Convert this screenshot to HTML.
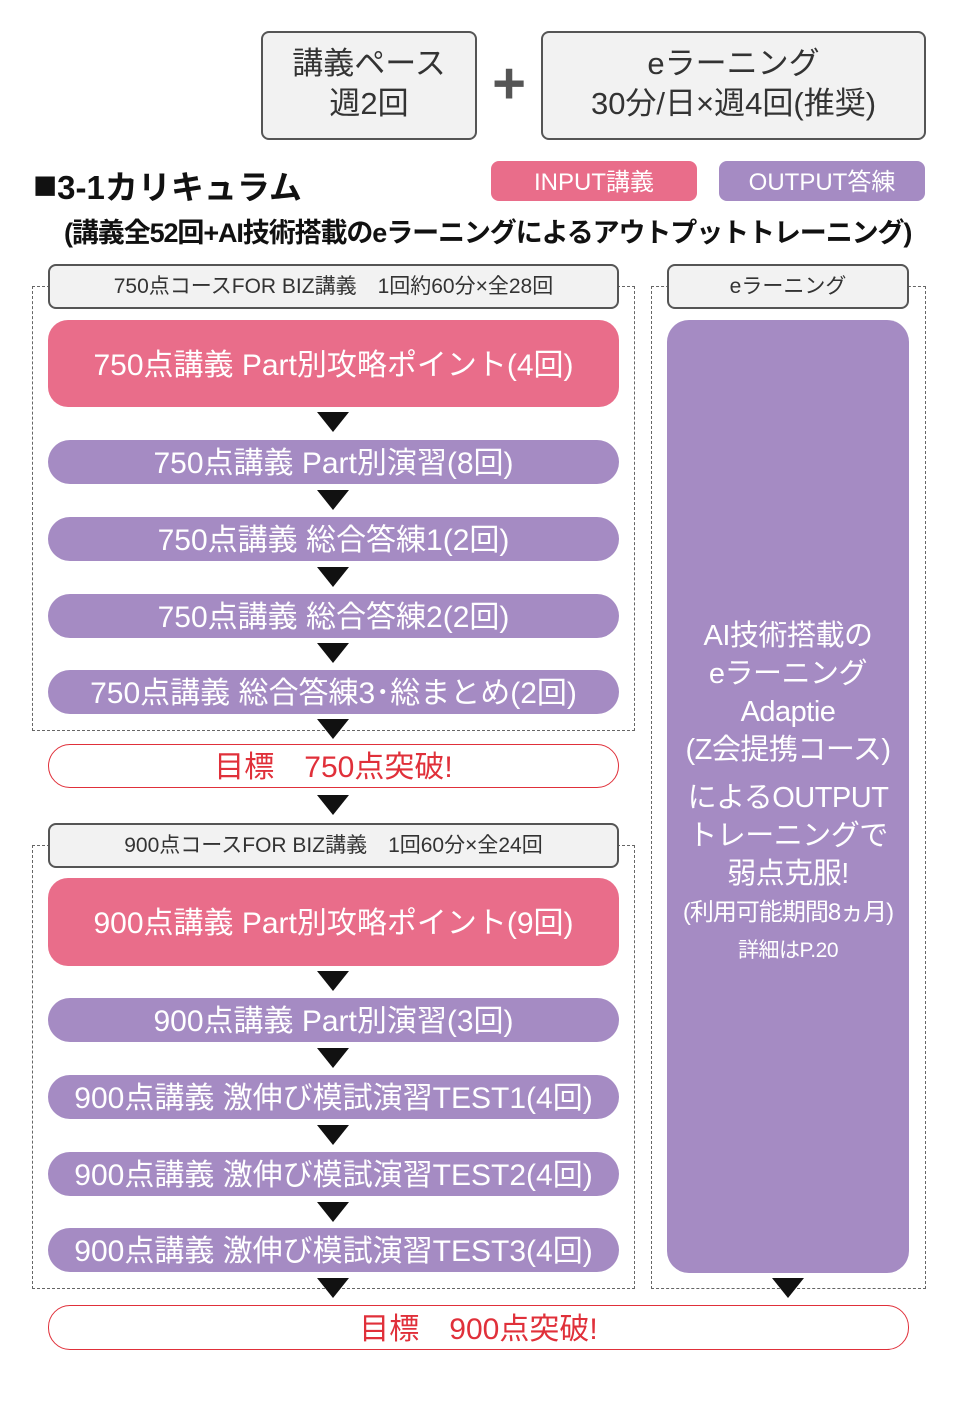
<!DOCTYPE html>
<html><head><meta charset="utf-8"><style>
body{margin:0;width:960px;height:1402px;background:#fff;position:relative;overflow:hidden;font-family:"Liberation Sans","Noto Sans CJK JP",sans-serif}
.a{position:absolute;box-sizing:border-box;display:flex;align-items:center;justify-content:center;text-align:center;white-space:nowrap;padding-bottom:4px}
.g{background:#f2f2f2;border:2px solid #555;border-radius:8px;color:#333}
.p{background:#e96d8a;color:#fff;border-radius:20px;font-size:30px}
.v{background:#a58bc3;color:#fff;border-radius:22px;font-size:30px}
.goal{background:#fff;border:1.5px solid #e0303a;border-radius:22px;color:#e0303a;font-size:30px}
.d{position:absolute;border:1.3px dashed #666;box-sizing:border-box}
.t{position:absolute;width:0;height:0;border-left:16px solid transparent;border-right:16px solid transparent;border-top:20px solid #111}
</style></head><body>
<div class="a g" style="left:261px;top:31px;width:216px;height:109px;font-size:31px;line-height:40px;flex-direction:column">講義ペース<br>週2回</div>
<div class="a" style="left:484px;top:55px;width:50px;height:60px;font-size:58px;font-weight:bold;color:#555">+</div>
<div class="a g" style="left:541px;top:31px;width:385px;height:109px;font-size:31px;line-height:40px;flex-direction:column">eラーニング<br>30分/日×週4回(推奨)</div>
<div class="a" style="left:33px;top:166px;height:42px;font-size:33px;font-weight:bold;color:#111;justify-content:flex-start"><span style="font-size:40px;line-height:30px">■</span>3-1カリキュラム</div>
<div class="a" style="left:491px;top:161px;width:206px;height:40px;background:#e96d8a;border-radius:8px;color:#fff;font-size:24px">INPUT講義</div>
<div class="a" style="left:719px;top:161px;width:206px;height:40px;background:#a58bc3;border-radius:8px;color:#fff;font-size:24px">OUTPUT答練</div>
<div class="a" style="left:64px;top:212px;height:40px;font-size:27px;font-weight:bold;color:#111;letter-spacing:-1.1px">(講義全52回+AI技術搭載のeラーニングによるアウトプットトレーニング)</div>

<div class="d" style="left:32px;top:286px;width:603px;height:445px"></div>
<div class="d" style="left:32px;top:845px;width:603px;height:444px"></div>
<div class="d" style="left:651px;top:286px;width:275px;height:1003px"></div>

<div class="a g" style="left:48px;top:264px;width:571px;height:45px;font-size:21px">750点コースFOR BIZ講義　1回約60分×全28回</div>
<div class="a p" style="left:48px;top:320px;width:571px;height:87px">750点講義 Part別攻略ポイント(4回)</div>
<div class="t" style="left:317px;top:412px"></div>
<div class="a v" style="left:48px;top:440px;width:571px;height:44px">750点講義 Part別演習(8回)</div>
<div class="t" style="left:317px;top:490px"></div>
<div class="a v" style="left:48px;top:517px;width:571px;height:44px">750点講義 総合答練1(2回)</div>
<div class="t" style="left:317px;top:567px"></div>
<div class="a v" style="left:48px;top:594px;width:571px;height:44px">750点講義 総合答練2(2回)</div>
<div class="t" style="left:317px;top:643px"></div>
<div class="a v" style="left:48px;top:670px;width:571px;height:44px">750点講義 総合答練3･総まとめ(2回)</div>
<div class="t" style="left:317px;top:719px"></div>
<div class="a goal" style="left:48px;top:744px;width:571px;height:44px">目標　750点突破!</div>
<div class="t" style="left:317px;top:795px"></div>

<div class="a g" style="left:48px;top:823px;width:571px;height:45px;font-size:21px">900点コースFOR BIZ講義　1回60分×全24回</div>
<div class="a p" style="left:48px;top:878px;width:571px;height:88px">900点講義 Part別攻略ポイント(9回)</div>
<div class="t" style="left:317px;top:971px"></div>
<div class="a v" style="left:48px;top:998px;width:571px;height:44px">900点講義 Part別演習(3回)</div>
<div class="t" style="left:317px;top:1048px"></div>
<div class="a v" style="left:48px;top:1075px;width:571px;height:44px">900点講義 激伸び模試演習TEST1(4回)</div>
<div class="t" style="left:317px;top:1125px"></div>
<div class="a v" style="left:48px;top:1152px;width:571px;height:44px">900点講義 激伸び模試演習TEST2(4回)</div>
<div class="t" style="left:317px;top:1202px"></div>
<div class="a v" style="left:48px;top:1228px;width:571px;height:44px">900点講義 激伸び模試演習TEST3(4回)</div>
<div class="t" style="left:317px;top:1278px"></div>

<div class="a g" style="left:667px;top:264px;width:242px;height:45px;font-size:21px">eラーニング</div>
<div class="a" style="left:667px;top:320px;width:242px;height:953px;background:#a58bc3;border-radius:22px;color:#fff;flex-direction:column;font-size:29px;line-height:38px;padding-bottom:8px;letter-spacing:-0.5px">
<div>AI技術搭載の<br>eラーニング<br>Adaptie<br>(Z会提携コース)</div>
<div style="margin-top:10px;line-height:38px">によるOUTPUT<br>トレーニングで<br>弱点克服!</div>
<div style="font-size:24px;line-height:40px;letter-spacing:-1px">(利用可能期間8ヵ月)</div>
<div style="font-size:21px;line-height:36px">詳細はP.20</div>
</div>
<div class="t" style="left:772px;top:1278px"></div>
<div class="a goal" style="left:48px;top:1305px;width:861px;height:45px">目標　900点突破!</div>
</body></html>
